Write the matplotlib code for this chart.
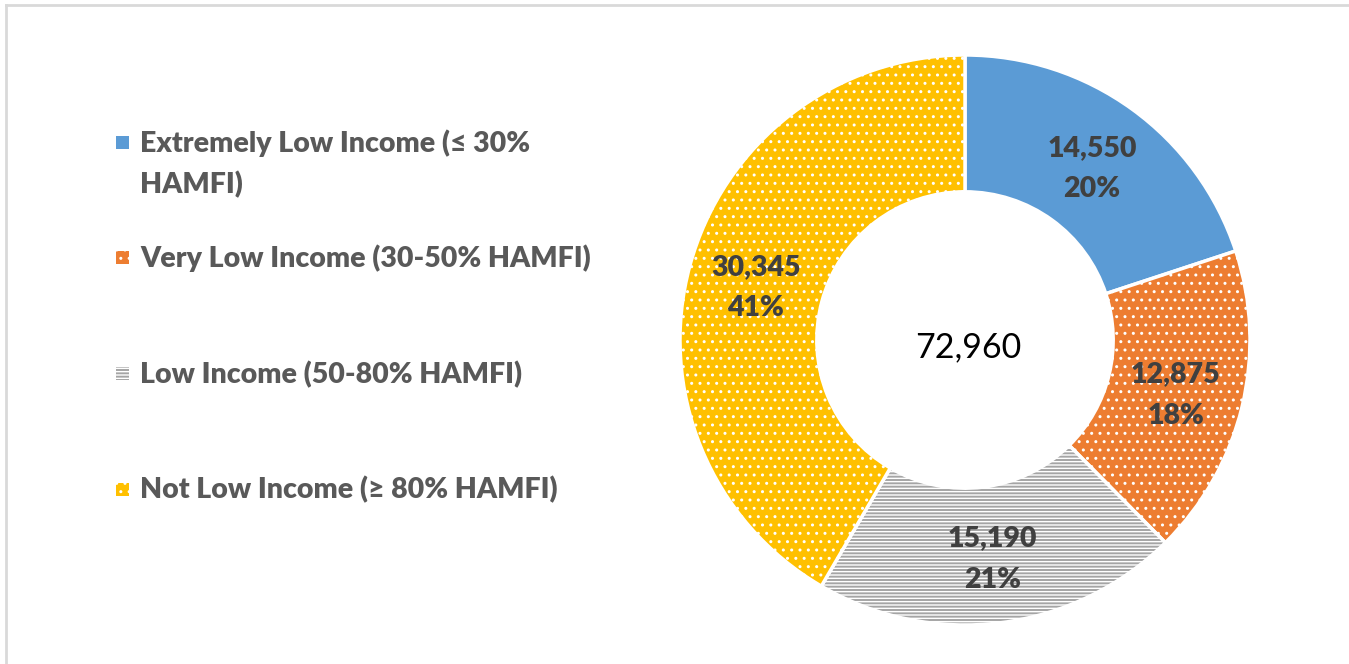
import numpy as np
import matplotlib.pyplot as plt
from matplotlib.patches import Rectangle
from matplotlib.lines import Line2D

# households by income category
categories = [
    "Extremely Low Income (\u2264 30%\nHAMFI)",
    "Very Low Income (30-50% HAMFI)",
    "Low Income (50-80% HAMFI)",
    "Not Low Income (\u2265 80% HAMFI)",
]
households = [14550, 12875, 15190, 30345]
pct_labels = [20, 18, 21, 41]   # as printed on the chart
total_label = "72,960"

colors = ["#5B9BD5", "#ED7D31", "#A5A5A5", "#FFC000"]
hatches = [None, "..", "-----", ".."]

W, H = 1349, 664
fig = plt.figure(figsize=(W / 100, H / 100), dpi=100)
fig.patch.set_facecolor("white")

# light grey frame (left and top edges only visible)
fig.add_artist(Line2D([5.5 / W, 5.5 / W], [0, 1 - 5 / H], transform=fig.transFigure,
                      color="#D9D9D9", lw=2))
fig.add_artist(Line2D([5.5 / W, 1], [1 - 5 / H, 1 - 5 / H], transform=fig.transFigure,
                      color="#D9D9D9", lw=2))

cx, cy, r = 965, 340, 285
ax = fig.add_axes([(cx - r) / W, (H - cy - r) / H, 2 * r / W, 2 * r / H])

wedges, texts = ax.pie(
    households, startangle=90, counterclock=False, colors=colors,
    wedgeprops=dict(width=0.48, edgecolor="white", linewidth=2.5),
)
for w, h, v, p in zip(wedges, hatches, households, pct_labels):
    if h:
        w.set_hatch(h)
    ang = np.deg2rad((w.theta1 + w.theta2) / 2)
    ax.text(0.76 * np.cos(ang), 0.76 * np.sin(ang) - 0.015, f"{v:,}\n{p}%",
            ha="center", va="center", family=["Lato", "DejaVu Sans"], fontsize=20.5,
            fontweight="heavy", color="#404040", linespacing=1.72)
ax.set_xlim(-1, 1)
ax.set_ylim(-1, 1)
ax.set_aspect("equal")
ax.axis("off")

ax.text(0.01, -0.025, total_label, ha="center", va="center", fontsize=24.5,
        family=["Lato", "DejaVu Sans"], color="black")

# legend on the left
y0, step = 142, 115.7
for i, (lab, c, h) in enumerate(zip(categories, colors, hatches)):
    yc = y0 + i * step
    sq = Rectangle((116 / W, 1 - (yc + 6.5) / H), 13 / W, 13 / H, transform=fig.transFigure,
                   facecolor=c, edgecolor="white", linewidth=0, hatch=h)
    fig.add_artist(sq)
    fig.text(140 / W, 1 - (yc - 13) / H, lab, ha="left", va="top", fontsize=20.5,
             fontweight="heavy", color="#595959", family=["Lato", "DejaVu Sans"],
             linespacing=1.65)

fig.savefig("out.png", dpi=100, facecolor="white")
